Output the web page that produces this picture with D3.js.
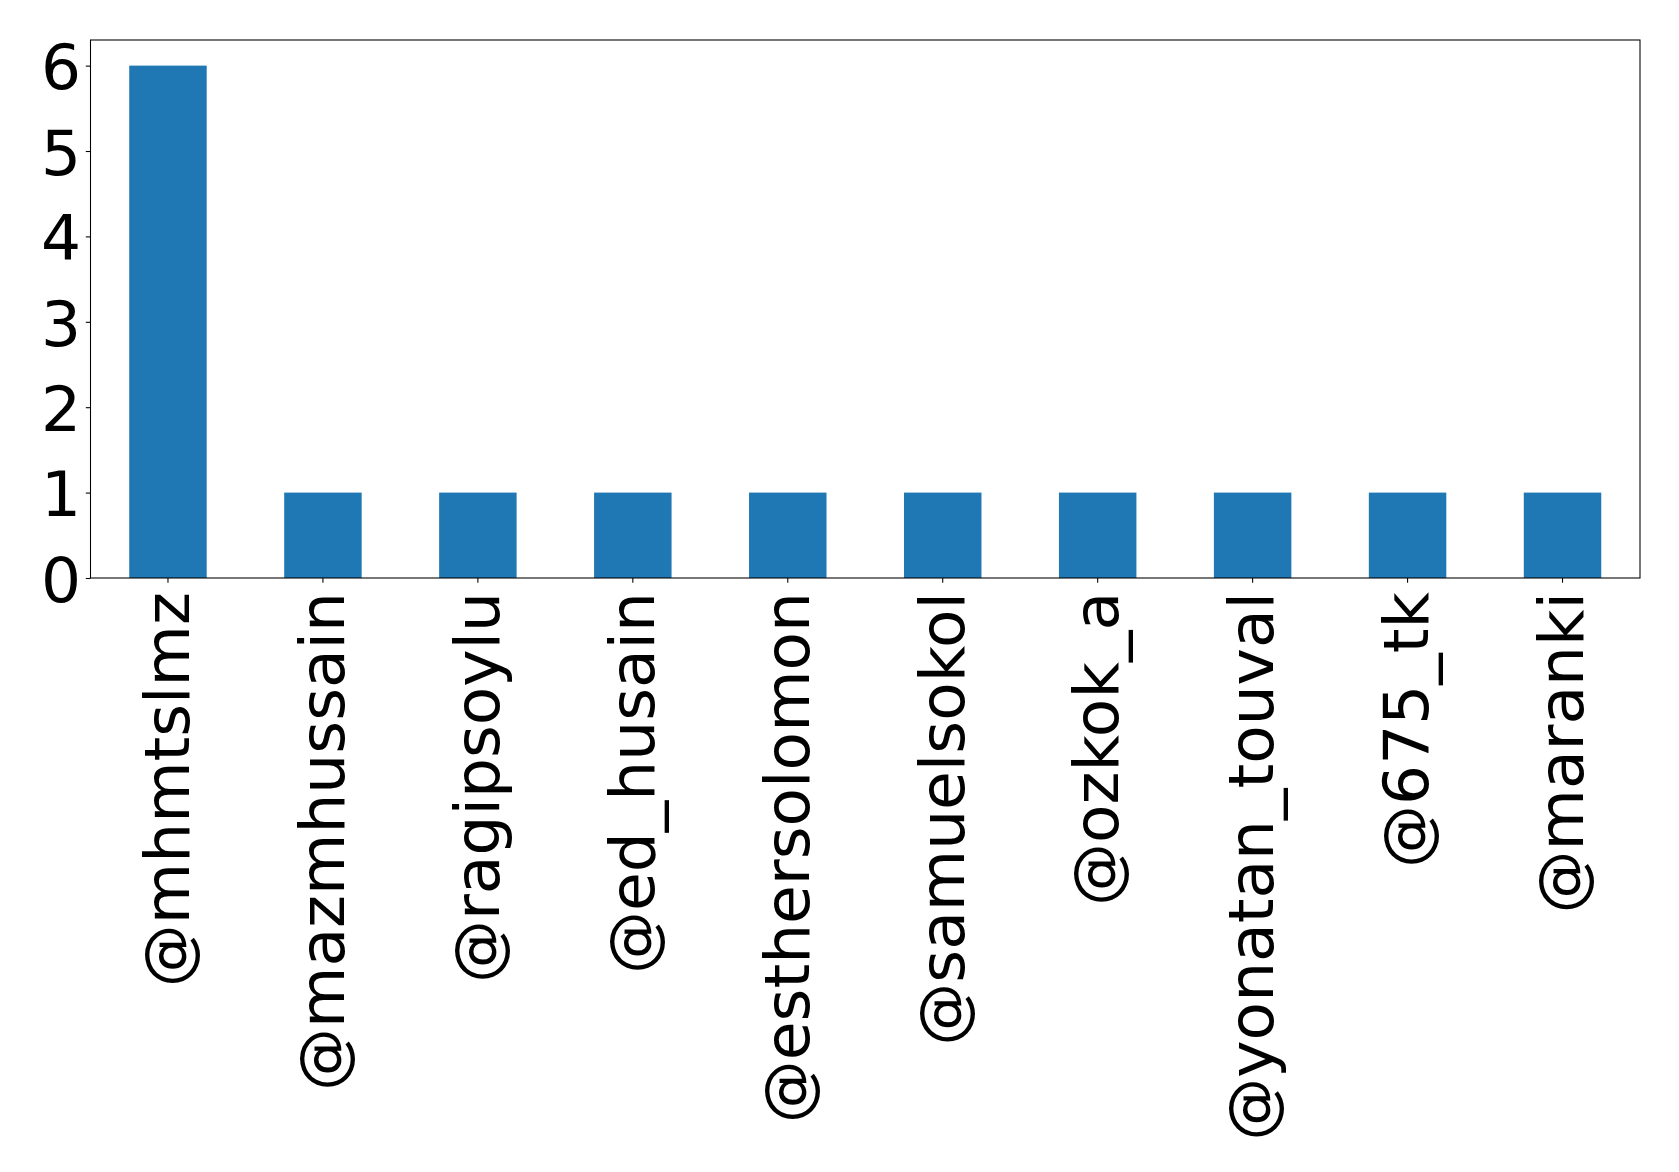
<!DOCTYPE html>
<html><head><meta charset="utf-8">
<script src="https://d3js.org/d3.v7.min.js"></script>
<style>body{margin:0;background:#fff}</style>
</head><body>
<script>
const categories = ["@mhmtslmz","@mazmhussain","@ragipsoylu","@ed_husain","@esthersolomon","@samuelsokol","@ozkok_a","@yonatan_touval","@675_tk","@maranki"];
const values = [6,1,1,1,1,1,1,1,1,1];
const yTicks = [0,1,2,3,4,5,6];

const W = 1679, H = 1172;
const m = {left: 90.5, right: 1640, top: 40, bottom: 578};
const fs = 63;

const svg = d3.select("body").append("svg").attr("width", W).attr("height", H)
  .style("font-family", "'DejaVu Sans', sans-serif");

const x = d3.scaleBand().domain(categories).range([m.left, m.right]).paddingInner(0.5).paddingOuter(0.25);
const y = d3.scaleLinear().domain([0, 6.3]).range([m.bottom, m.top]);

svg.append("g").selectAll("rect").data(values).join("rect")
  .attr("x", (d,i) => x(categories[i]))
  .attr("width", x.bandwidth())
  .attr("y", d => y(d))
  .attr("height", d => y(0) - y(d))
  .attr("fill", "#1f77b4");

const xAxis = svg.append("g").attr("transform", `translate(0,${m.bottom})`)
  .call(d3.axisBottom(x).tickSize(4.7).tickPadding(4.7).tickSizeOuter(0));
xAxis.select(".domain").remove();
xAxis.selectAll("line").attr("stroke", "#000").attr("stroke-width", 1.07);
xAxis.selectAll("text")
  .attr("font-size", fs).attr("fill", "#000")
  .attr("font-family", "'DejaVu Sans', sans-serif")
  .attr("text-anchor", "end")
  .attr("transform", "rotate(-90)")
  .attr("x", -14).attr("y", 0).attr("dy", "0.33em");

const yAxis = svg.append("g").attr("transform", `translate(${m.left},0)`)
  .call(d3.axisLeft(y).tickValues(yTicks).tickFormat(d3.format("d")).tickSize(4.7).tickPadding(4.7).tickSizeOuter(0));
yAxis.select(".domain").remove();
yAxis.selectAll("line").attr("stroke", "#000").attr("stroke-width", 1.07);
yAxis.selectAll("text")
  .attr("font-size", fs).attr("fill", "#000")
  .attr("font-family", "'DejaVu Sans', sans-serif")
  .attr("dy", "0.37em");

svg.append("rect").attr("x", m.left).attr("y", m.top)
  .attr("width", m.right - m.left).attr("height", m.bottom - m.top)
  .attr("fill", "none").attr("stroke", "#000").attr("stroke-width", 1.07);
</script>
</body></html>
